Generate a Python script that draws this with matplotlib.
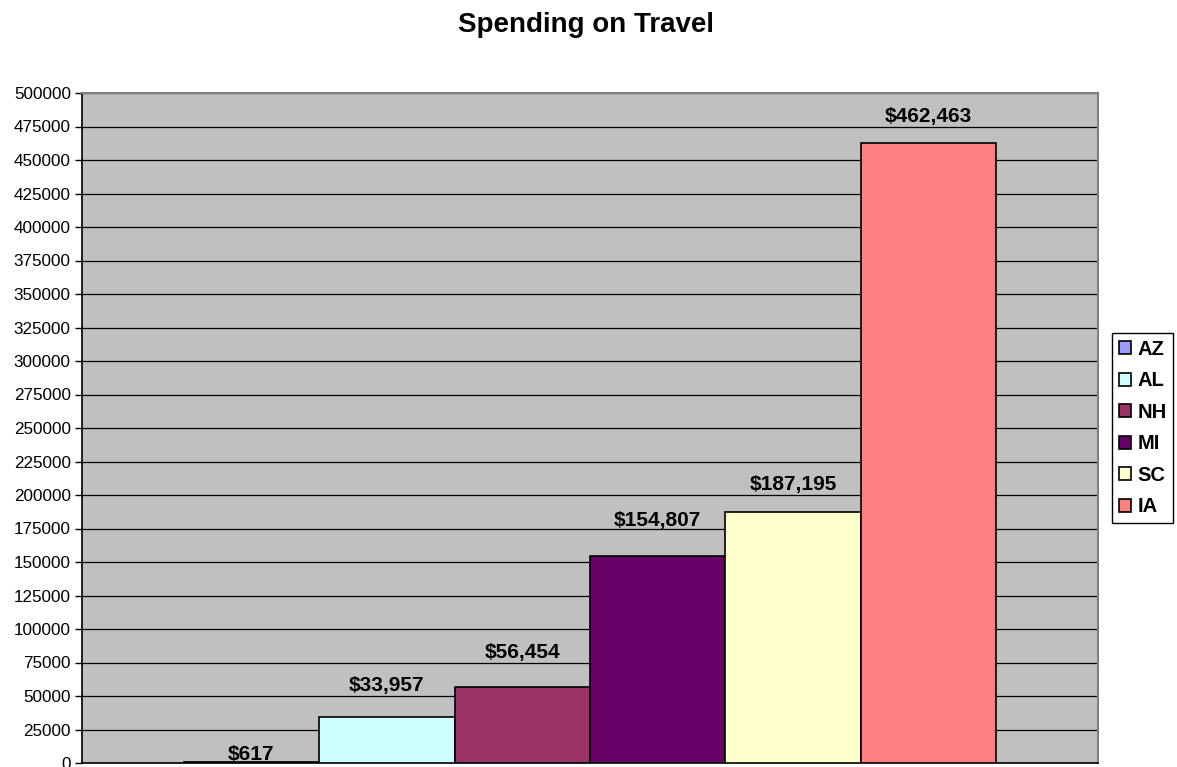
import matplotlib
matplotlib.use("Agg")
import matplotlib.pyplot as plt
from matplotlib.patches import Patch

plt.rcParams['font.family'] = ['Liberation Sans', 'DejaVu Sans']

# spending per state
states = ["AZ", "AL", "NH", "MI", "SC", "IA"]
spending = [617, 33957, 56454, 154807, 187195, 462463]
colors = ["#9999FF", "#CCFFFF", "#993366", "#660066", "#FFFFCC", "#FF8080"]
yticks = list(range(0, 500001, 25000))

# gap between bar top and label baseline, in pixels
label_gap = [2, 26, 29, 30, 22, 21]

fig = plt.figure(figsize=(11.77, 7.67), dpi=100)
ax = fig.add_axes([82/1177, 4/767, 1016/1177, 670/767])
ax.set_facecolor("#C0C0C0")

x = list(range(len(states)))
ax.bar(x, spending, width=1.0, color=colors, edgecolor="black", linewidth=1.2, zorder=3)

for xi, v, g in zip(x, spending, label_gap):
    ax.annotate("${:,}".format(v), (xi, v), xytext=(0, g), textcoords="offset pixels",
                ha="center", va="baseline", fontsize=15, fontweight="bold", zorder=4)

ax.set_xlim(-1.25, 6.25)
ax.set_ylim(0, 500000)
ax.set_yticks(yticks)
ax.set_yticklabels([str(t) for t in yticks], fontsize=12.3)
ax.set_xticks([])
ax.tick_params(axis="y", direction="out", length=5, width=1, pad=3)
ax.yaxis.grid(True, color="black", linewidth=0.9, zorder=1)
ax.set_axisbelow(True)

for side in ["top", "right"]:
    ax.spines[side].set_color("#808080")
    ax.spines[side].set_linewidth(1.5)
ax.spines["left"].set_linewidth(1.2)
ax.spines["bottom"].set_linewidth(1.2)

fig.text(586/1177, 1 - 25/767, "Spending on Travel", ha="center", va="center",
         fontsize=20, fontweight="bold")

handles = [Patch(facecolor=c, edgecolor="black", linewidth=1.2, label=s)
           for s, c in zip(states, colors)]
leg = fig.legend(handles=handles, loc="center left", bbox_to_anchor=(1112/1177, 1 - 428/767),
                 frameon=True, fancybox=False, edgecolor="black", framealpha=1,
                 prop={"weight": "bold", "size": 14.5}, handlelength=0.6, handleheight=0.6,
                 handletextpad=0.3, labelspacing=0.62, borderpad=0.35, borderaxespad=0)
leg.get_frame().set_linewidth(1.0)

fig.savefig("out.png", dpi=100)
